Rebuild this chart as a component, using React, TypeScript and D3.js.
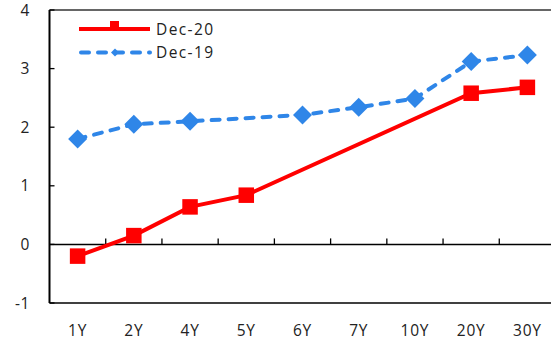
import React from 'react';
import * as d3 from 'd3';

const categories = ['1Y', '2Y', '4Y', '5Y', '6Y', '7Y', '10Y', '20Y', '30Y'];
const dec20: (number | null)[] = [-0.2, 0.15, 0.64, 0.84, null, null, null, 2.58, 2.68];
const dec19: (number | null)[] = [1.8, 2.05, 2.1, null, 2.21, 2.34, 2.49, 3.12, 3.23];
const yTicks = [-1, 0, 1, 2, 3, 4];

const W = 551;
const H = 343;
const RED = '#ff0000';
const BLUE = '#2f86e8';
const FONT = '"Open Sans", "Noto Sans", sans-serif';

export default function App() {
  const x = d3.scaleBand<string>().domain(categories).range([49.5, 555.5]).padding(0);
  const y = d3.scaleLinear().domain([-1, 4]).range([303, 10]);
  const cx = (c: string) => (x(c) as number) + x.bandwidth() / 2;

  const pts = (vals: (number | null)[]) =>
    categories
      .map((c, i) => ({ c, v: vals[i] }))
      .filter((d) => d.v !== null) as { c: string; v: number }[];

  const line = d3
    .line<{ c: string; v: number }>()
    .x((d) => cx(d.c))
    .y((d) => y(d.v));

  const p20 = pts(dec20);
  const p19 = pts(dec19);
  const left = 49.5;
  const right = 555.5;
  const boundaries = categories.slice(1).map((c) => x(c) as number);

  const diamond = (px: number, py: number, r: number) =>
    `M${px},${py - r}L${px + r},${py}L${px},${py + r}L${px - r},${py}Z`;

  return (
    <svg
      width={W}
      height={H}
      style={{ position: 'fixed', left: 0, top: 0, background: '#fff' }}
      fontFamily={FONT}
    >
      <rect width={W} height={H} fill="#fff" />
      {/* plot border: top, bottom */}
      <line x1={left} x2={right} y1={y(4)} y2={y(4)} stroke="#333" strokeWidth={1.3} />
      <line x1={left} x2={right} y1={y(-1)} y2={y(-1)} stroke="#000" strokeWidth={1.6} />
      {/* left axis */}
      <line x1={left} x2={left} y1={y(4)} y2={y(-1)} stroke="#000" strokeWidth={2} />
      {yTicks.map((t) => (
        <g key={t}>
          <line x1={left} x2={left + 5} y1={y(t)} y2={y(t)} stroke="#000" strokeWidth={1.3} />
          <text x={30} y={y(t)} dy="0.36em" textAnchor="end" fontSize={15.5} fill="#222" letterSpacing={0.6}>
            {t}
          </text>
        </g>
      ))}
      {/* x axis at zero */}
      <line x1={left} x2={right} y1={y(0)} y2={y(0)} stroke="#000" strokeWidth={1.5} />
      {boundaries.map((b, i) => (
        <line key={i} x1={b} x2={b} y1={y(0)} y2={y(0) - 6} stroke="#000" strokeWidth={1.3} />
      ))}
      {categories.map((c) => (
        <text key={c} x={cx(c)} y={335.5} textAnchor="middle" fontSize={15.5} fill="#222" letterSpacing={0.8}>
          {c}
        </text>
      ))}
      {/* Dec-19 */}
      <path
        d={line(p19) || ''}
        fill="none"
        stroke={BLUE}
        strokeWidth={4}
        strokeDasharray="8 9"
        strokeLinecap="round"
      />
      {p19.map((d) => (
        <path key={d.c} d={diamond(cx(d.c), y(d.v), 9.5)} fill={BLUE} />
      ))}
      {/* Dec-20 */}
      <path d={line(p20) || ''} fill="none" stroke={RED} strokeWidth={4} />
      {p20.map((d) => (
        <rect key={d.c} x={cx(d.c) - 7.75} y={y(d.v) - 7.75} width={15.5} height={15.5} fill={RED} />
      ))}
      {/* legend */}
      <line x1={79} x2={150} y1={29} y2={29} stroke={RED} strokeWidth={4} />
      <rect x={110} y={21} width={9} height={9} fill={RED} />
      <text x={156} y={29} dy="0.36em" fontSize={15.5} fill="#222" letterSpacing={1.4}>
        Dec-20
      </text>
      <line
        x1={81}
        x2={150}
        y1={52.5}
        y2={52.5}
        stroke={BLUE}
        strokeWidth={4}
        strokeDasharray="8 9"
        strokeLinecap="round"
      />
      <path d={diamond(115, 52.5, 4)} fill={BLUE} />
      <text x={156} y={52.5} dy="0.36em" fontSize={15.5} fill="#222" letterSpacing={1.4}>
        Dec-19
      </text>
    </svg>
  );
}
